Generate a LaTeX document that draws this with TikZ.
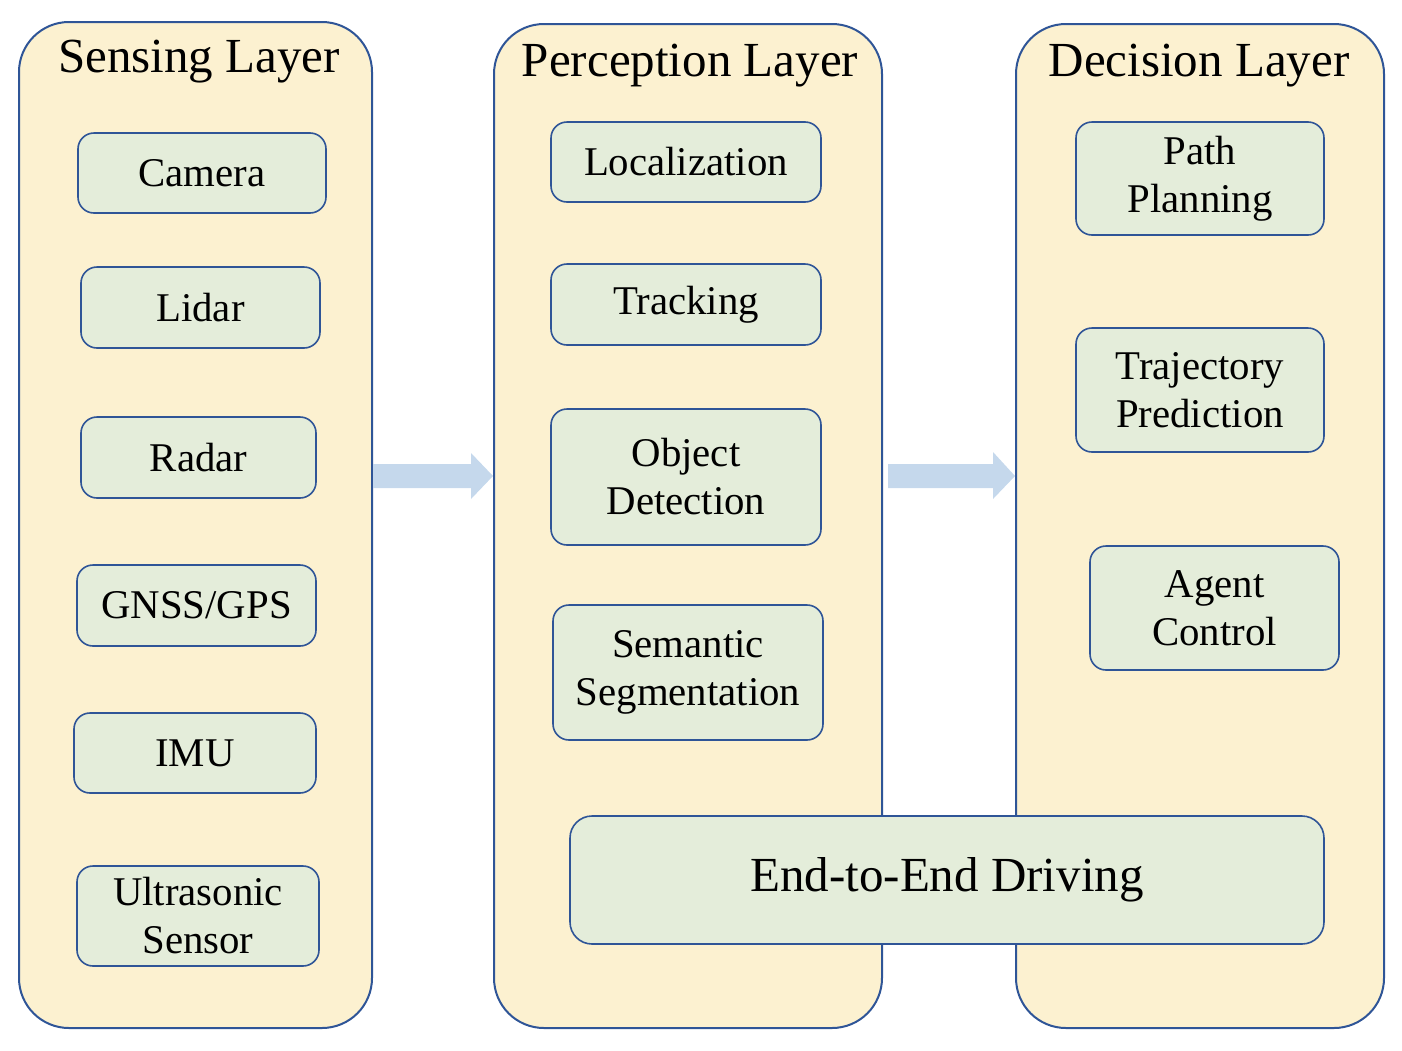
\documentclass[tikz,border=0pt]{standalone}
\usepackage{fontspec}
\setmainfont{Liberation Serif}
\usetikzlibrary{calc}
\definecolor{layerfill}{HTML}{FCF1D0}
\definecolor{edge}{HTML}{2F5597}
\definecolor{boxfill}{HTML}{E4EDDA}
\definecolor{arrowfill}{HTML}{C5D8EC}
\tikzset{
  layer/.style={draw=edge, fill=layerfill, line width=1pt, rounded corners=25pt, inner sep=0pt},
  item/.style={draw=edge, fill=boxfill, line width=0.8pt, rounded corners=8pt, inner sep=0pt, align=center,
     font=\fontsize{20.4}{24}\selectfont},
  title/.style={font=\fontsize{24.5}{28}\selectfont, inner sep=0pt},
  blockarrow/.style={fill=arrowfill, draw=none}
}
\begin{document}
\begin{tikzpicture}[x=0.5pt,y=-0.5pt]
\useasboundingbox (0,0) rectangle (1402,1050);
% layers
\node[layer, minimum width=176.5pt, minimum height=503pt] (S) at (195.5,525) {};
\node[layer, minimum width=194pt, minimum height=502pt] (P) at (688,526) {};
\node[layer, minimum width=184pt, minimum height=502pt] (D) at (1200,526) {};
\node[title] (St) at (199,62) {Sensing Layer};
\node[title] (Pt) at (690,66) {Perception Layer};
\node[title] (Dt) at (1199,66) {Decision Layer};
% sensing
\node[item, minimum width=124pt, minimum height=40pt] (cam) at (202,173) {Camera};
\node[item, minimum width=119.5pt, minimum height=40.5pt] (lid) at (200.5,307.5) {Lidar};
\node[item, minimum width=117.5pt, minimum height=40.5pt] (rad) at (198.5,457.5) {Radar};
\node[item, minimum width=119.5pt, minimum height=40.5pt] (gnss) at (196.5,605.5) {GNSS/GPS};
\node[item, minimum width=121pt, minimum height=40pt] (imu) at (195,753) {IMU};
\node[item, minimum width=121pt, minimum height=50pt] (ult) at (198,916) {Ultrasonic\\Sensor};
% perception
\node[item, minimum width=135pt, minimum height=40pt] (loc) at (686,162) {Localization};
\node[item, minimum width=135pt, minimum height=40.5pt] (trk) at (686,304.5) {Tracking};
\node[item, minimum width=135pt, minimum height=68pt] (obj) at (686,477) {Object\\Detection};
\node[item, minimum width=135pt, minimum height=67.5pt] (seg) at (688,672.5) {\raisebox{-1.5pt}{\parbox{130pt}{\centering Semantic\\Segmentation}}};
% decision
\node[item, minimum width=124pt, minimum height=56.5pt] (path) at (1200,178.5) {Path\\Planning};
\node[item, minimum width=124pt, minimum height=62pt] (traj) at (1200,390) {Trajectory\\Prediction};
\node[item, minimum width=124.5pt, minimum height=62pt] (agent) at (1214.5,608) {Agent\\Control};
% end to end
\node[item, rounded corners=11pt, minimum width=377pt, minimum height=64pt, font=\fontsize{24.5}{28}\selectfont] (e2e) at (947,880) {\raisebox{-1.5pt}{End-to-End Driving}};
% block arrows
\fill[blockarrow] (S.east |- 0,464) -- (471,464) -- (471,453) -- (P.west |- 0,476) -- (471,499) -- (471,488) -- (S.east |- 0,488) -- cycle;
\fill[blockarrow] (888,464) -- (993,464) -- (993,452) -- (D.west |- 0,476) -- (993,499) -- (993,488) -- (888,488) -- cycle;
\end{tikzpicture}
\end{document}
